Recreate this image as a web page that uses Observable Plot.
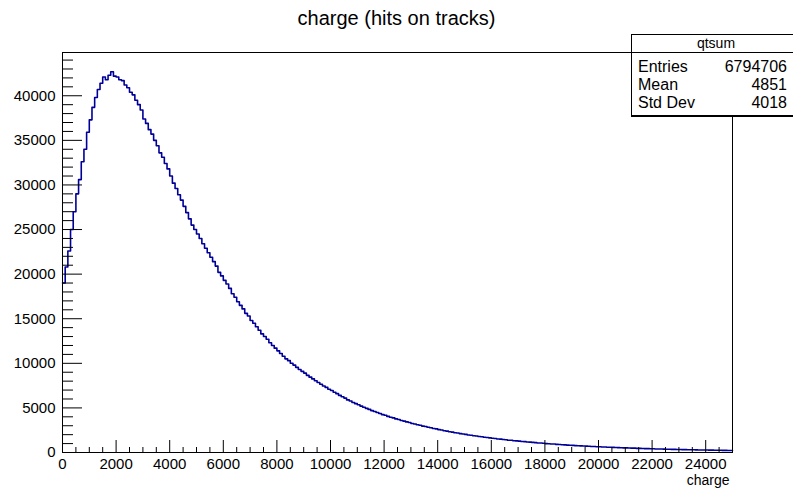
<!DOCTYPE html>
<html>
<head>
<meta charset="utf-8">
<script src="https://cdn.jsdelivr.net/npm/d3@7"></script>
<script src="https://cdn.jsdelivr.net/npm/@observablehq/plot@0.6"></script>
<style>
  html, body { margin: 0; padding: 0; background: #fff; }
  #wrap { position: relative; width: 793px; height: 489px; overflow: hidden; font-family: "Liberation Sans", Arial, Helvetica, sans-serif; color: #000; }
  #title { position: absolute; left: 0; top: 8px; width: 793px; text-align: center; font-size: 20px; line-height: 20px; }
  #chart { position: absolute; left: 0; top: 40px; }
  #stats { position: absolute; left: 631px; top: 34px; width: 168px; height: 80px; border: 1px solid #000; border-bottom-width: 2px; background: #fff; }
  #stats .hdr { position: absolute; left: 0; top: 0; width: 168px; height: 17px; border-bottom: 1px solid #000; }
  #stats .hdr span { position: absolute; left: 0; width: 168px; top: 1px; text-align: center; font-size: 14px; line-height: 14px; }
  #stats .row { position: absolute; left: 6px; width: 149px; font-size: 16px; line-height: 16px; }
  #stats .row .v { position: absolute; right: 0; top: 0; }
</style>
</head>
<body>
<div id="wrap">
  <div id="title"></div>
  <div id="chart"></div>
  <div id="stats"></div>
</div>
<script>
// ---- Data ----
const chartTitle = "charge (hits on tracks)";
const xAxisTitle = "charge";
const histName = "qtsum";
const statLabels = ["Entries", "Mean", "Std Dev"];
const statValues = ["6794706", "4851", "4018"];

const binWidth = 100;   // charge units per bin, histogram from 0 to 25000
const xDomain = [0, 25000];
const yDomain = [0, 44850];

// bin contents, 0 - 5000
const counts0 = [
  19000, 20800, 22600, 25000, 27000, 29000, 30600, 32600, 34000, 35900,
  37300, 38700, 39800, 40700, 41400, 42100, 41800, 42300, 42700, 42200,
  42100, 41800, 41700, 41200, 40900, 40400, 40100, 39500, 39000, 38400,
  37400, 36900, 36200, 35700, 35000, 34400, 33600, 33100, 32400, 31800,
  31000, 30200, 29600, 28900, 28300, 27600, 26900, 26200, 25500, 25000
];
// 5000 - 10000
const counts1 = [
  24500, 24000, 23400, 22900, 22400, 21900, 21400, 20900, 20200, 19800,
  19300, 18900, 18400, 17800, 17400, 16900, 16500, 16100, 15600, 15300,
  14800, 14500, 14100, 13700, 13300, 13000, 12700, 12300, 12000, 11700,
  11400, 11100, 10800, 10500, 10300, 10000, 9800, 9550, 9300, 9100,
  8900, 8650, 8450, 8250, 8050, 7850, 7650, 7450, 7300, 7100
];
// 10000 - 15000
const counts2 = [
  6950, 6750, 6600, 6400, 6250, 6100, 5900, 5780, 5600, 5480,
  5350, 5200, 5080, 4950, 4830, 4700, 4600, 4480, 4380, 4250,
  4170, 4050, 3960, 3880, 3770, 3700, 3590, 3520, 3430, 3360,
  3260, 3200, 3110, 3050, 2960, 2910, 2830, 2770, 2690, 2650,
  2570, 2520, 2440, 2400, 2330, 2290, 2220, 2190, 2120, 2070
];
// 15000 - 20000
const counts3 = [
  2030, 1970, 1940, 1880, 1850, 1790, 1770, 1710, 1690, 1640,
  1600, 1570, 1520, 1500, 1450, 1430, 1380, 1370, 1320, 1300,
  1270, 1240, 1220, 1180, 1160, 1130, 1110, 1070, 1060, 1030,
  1000, 985, 955, 945, 910, 895, 870, 855, 830, 815,
  800, 775, 765, 740, 735, 710, 700, 680, 670, 650
];
// 20000 - 25000
const counts4 = [
  645, 620, 615, 595, 590, 570, 565, 545, 540, 520,
  515, 505, 490, 485, 465, 460, 450, 440, 430, 420,
  418, 400, 398, 385, 380, 370, 365, 355, 352, 340,
  338, 325, 322, 312, 308, 300, 296, 288, 282, 278,
  272, 266, 262, 254, 250, 246, 240, 236, 232, 226
];

const xMajorTicks = [0, 2000, 4000, 6000, 8000, 10000, 12000, 14000, 16000, 18000, 20000, 22000, 24000];
const xMinorTicks = [500, 1000, 1500, 2500, 3000, 3500, 4500, 5000, 5500, 6500, 7000, 7500,
  8500, 9000, 9500, 10500, 11000, 11500, 12500, 13000, 13500, 14500, 15000, 15500,
  16500, 17000, 17500, 18500, 19000, 19500, 20500, 21000, 21500, 22500, 23000, 23500, 24500];
const yMajorTicks = [0, 5000, 10000, 15000, 20000, 25000, 30000, 35000, 40000];
const yMinorTicks = [1000, 2000, 3000, 4000, 6000, 7000, 8000, 9000, 11000, 12000, 13000, 14000,
  16000, 17000, 18000, 19000, 21000, 22000, 23000, 24000, 26000, 27000, 28000, 29000,
  31000, 32000, 33000, 34000, 36000, 37000, 38000, 39000, 41000, 42000, 43000, 44000];

// ---- Build step table ----
const counts = [...counts0, ...counts1, ...counts2, ...counts3, ...counts4];
const steps = counts.map((c, i) => ({x: i * binWidth, y: c}));
steps.push({x: counts.length * binWidth, y: counts[counts.length - 1]});

// ---- Layout ----
const W = 793, H = 449;
const mL = 62, mR = 61, mT = 12, mB = 37;
const plotW = W - mL - mR, plotH = H - mT - mB;
const fmt = d3.format("d");
const lineColor = "#000099";

const chart = Plot.plot({
  width: W,
  height: H,
  marginLeft: mL,
  marginRight: mR,
  marginTop: mT,
  marginBottom: mB,
  style: {fontFamily: "'Liberation Sans', Arial, Helvetica, sans-serif", fontSize: "15px", color: "#000", background: "#fff"},
  x: {domain: xDomain},
  y: {domain: yDomain},
  marks: [
    Plot.line(steps, {x: "x", y: "y", curve: "step-after", stroke: lineColor, strokeWidth: 1.6}),
    Plot.ruleY(yMajorTicks, {y: d => d, insetRight: plotW - 20, stroke: "#000", strokeWidth: 1}),
    Plot.ruleY(yMinorTicks, {y: d => d, insetRight: plotW - 11, stroke: "#000", strokeWidth: 1}),
    Plot.ruleX(xMajorTicks, {x: d => d, insetTop: plotH - 12, stroke: "#000", strokeWidth: 1}),
    Plot.ruleX(xMinorTicks, {x: d => d, insetTop: plotH - 5, stroke: "#000", strokeWidth: 1}),
    Plot.frame({stroke: "#000", strokeWidth: 1}),
    Plot.axisY(yMajorTicks, {tickSize: 0, tickPadding: 7, tickFormat: fmt, label: null, fontSize: 15}),
    Plot.axisX(xMajorTicks, {tickSize: 0, tickPadding: 6, tickFormat: fmt, label: null, fontSize: 15}),
    Plot.text([xAxisTitle], {text: d => d, frameAnchor: "bottom-right", textAnchor: "end", lineAnchor: "middle", dy: 28.5, dx: -3, fontSize: 14, fill: "#000"})
  ]
});
document.getElementById("chart").appendChild(chart);
document.getElementById("title").textContent = chartTitle;

// ---- Stats box ----
const stats = document.getElementById("stats");
const hdr = document.createElement("div");
hdr.className = "hdr";
const hs = document.createElement("span");
hs.textContent = histName;
hdr.appendChild(hs);
stats.appendChild(hdr);
const rowTops = [23.5, 41.5, 59.5];
statLabels.forEach((lab, i) => {
  const r = document.createElement("div");
  r.className = "row";
  r.style.top = rowTops[i] + "px";
  const l = document.createElement("span");
  l.textContent = lab;
  const v = document.createElement("span");
  v.className = "v";
  v.textContent = statValues[i];
  r.appendChild(l);
  r.appendChild(v);
  stats.appendChild(r);
});
</script>
</body>
</html>
